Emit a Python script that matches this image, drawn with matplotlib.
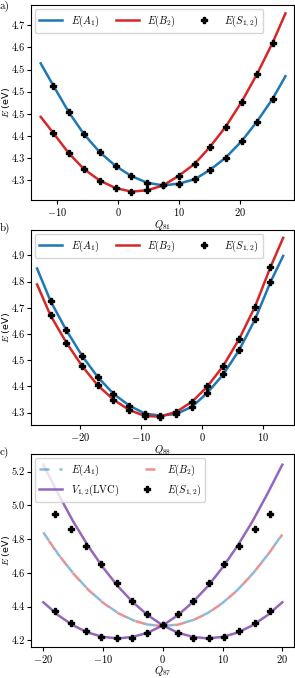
import matplotlib.pyplot as plt

plt.rcParams['font.family'] = 'serif'
plt.rcParams['font.serif'] = ['cmr10', 'DejaVu Serif']
plt.rcParams['mathtext.fontset'] = 'cm'
plt.rcParams['axes.formatter.use_mathtext'] = True
plt.rcParams['font.size'] = 7.5
plt.rcParams['axes.unicode_minus'] = True

# ---- panel a) Q81 ----
qa_line = [-12.7, -10.6, -8.1, -5.6, -3.0, -0.4, 2.2, 4.8, 7.4, 10.0, 12.6, 15.1, 17.7, 20.3, 22.8, 25.4, 27.5]
ea_A1 = [4.564, 4.513, 4.454, 4.404, 4.363, 4.332, 4.309, 4.294, 4.288, 4.292, 4.302, 4.323, 4.351, 4.388, 4.432, 4.484, 4.535]
ea_B2 = [4.443, 4.406, 4.361, 4.325, 4.299, 4.282, 4.274, 4.277, 4.288, 4.310, 4.337, 4.375, 4.421, 4.477, 4.539, 4.611, 4.677]
qa_pts = [-10.6, -8.1, -5.6, -3.0, -0.4, 2.2, 4.8, 7.4, 10.0, 12.6, 15.1, 17.7, 20.3, 22.8, 25.4]
ea_S1 = [4.513, 4.454, 4.404, 4.363, 4.332, 4.309, 4.294, 4.288, 4.292, 4.302, 4.323, 4.351, 4.388, 4.432, 4.484]
ea_S2 = [4.406, 4.361, 4.325, 4.299, 4.282, 4.274, 4.277, 4.288, 4.310, 4.337, 4.375, 4.421, 4.477, 4.539, 4.611]
yticks_a = [4.30, 4.35, 4.40, 4.45, 4.50, 4.55, 4.60, 4.65]

# ---- panel b) Q88 ----
qb_line = [-27.0, -24.8, -22.2, -19.6, -17.1, -14.5, -11.9, -9.3, -6.8, -4.2, -1.6, 0.9, 3.5, 6.1, 8.7, 11.2, 13.3]
eb_A1 = [4.850, 4.726, 4.614, 4.516, 4.437, 4.372, 4.327, 4.296, 4.289, 4.295, 4.323, 4.376, 4.446, 4.539, 4.656, 4.797, 4.898]
eb_B2 = [4.789, 4.671, 4.567, 4.477, 4.405, 4.350, 4.310, 4.287, 4.285, 4.303, 4.342, 4.400, 4.479, 4.581, 4.705, 4.854, 4.967]
qb_pts = [-24.8, -22.2, -19.6, -17.1, -14.5, -11.9, -9.3, -6.8, -4.2, -1.6, 0.9, 3.5, 6.1, 8.7, 11.2]
eb_S1 = [4.726, 4.614, 4.516, 4.437, 4.372, 4.327, 4.296, 4.289, 4.295, 4.323, 4.376, 4.446, 4.539, 4.656, 4.797]
eb_S2 = [4.671, 4.567, 4.477, 4.405, 4.350, 4.310, 4.287, 4.285, 4.303, 4.342, 4.400, 4.479, 4.581, 4.705, 4.854]
yticks_b = [4.3, 4.4, 4.5, 4.6, 4.7, 4.8, 4.9]

# ---- panel c) Q87 ----
qc_line = [-20, -17.5, -15, -12.5, -10, -7.5, -5, -2.5, 0, 2.5, 5, 7.5, 10, 12.5, 15, 17.5, 20]
ec_A1 = [4.840, 4.711, 4.598, 4.502, 4.424, 4.363, 4.320, 4.294, 4.285, 4.294, 4.320, 4.362, 4.422, 4.499, 4.594, 4.705, 4.829]
ec_B2 = [4.838, 4.710, 4.597, 4.501, 4.423, 4.362, 4.319, 4.293, 4.285, 4.293, 4.319, 4.361, 4.421, 4.498, 4.593, 4.704, 4.827]
ec_V1 = [4.426, 4.349, 4.289, 4.246, 4.221, 4.212, 4.221, 4.246, 4.289, 4.349, 4.426, 4.520, 4.632, 4.760, 4.905, 5.068, 5.241]
ec_V2 = [5.241, 5.068, 4.905, 4.760, 4.632, 4.520, 4.426, 4.349, 4.289, 4.246, 4.221, 4.212, 4.221, 4.246, 4.289, 4.349, 4.426]
qc_pts = [-18.0, -15.4, -12.8, -10.3, -7.7, -5.1, -2.6, 0.0, 2.6, 5.1, 7.7, 10.3, 12.8, 15.4, 18.0]
ec_S1 = [4.374, 4.303, 4.254, 4.223, 4.212, 4.217, 4.244, 4.289, 4.244, 4.217, 4.212, 4.223, 4.254, 4.303, 4.374]
ec_S2 = [4.950, 4.863, 4.757, 4.655, 4.539, 4.436, 4.355, 4.289, 4.355, 4.436, 4.539, 4.655, 4.757, 4.863, 4.950]
yticks_c = [4.2, 4.4, 4.6, 4.8, 5.0, 5.2]

blue = '#1f77b4'
red = '#d62728'
purple = '#9467bd'
lw = 1.8
ms = 4.8

fig = plt.figure(figsize=(2.95, 6.78), dpi=100)
ax_a = fig.add_axes([0.105, 0.705, 0.8915, 0.2876])
ax_b = fig.add_axes([0.105, 0.3732, 0.8915, 0.2876])
ax_c = fig.add_axes([0.105, 0.0457, 0.8915, 0.2846])

# a)
ax_a.plot(qa_line, ea_A1, color=blue, lw=lw, label=r'$E(A_1)$')
ax_a.plot(qa_line, ea_B2, color=red, lw=lw, label=r'$E(B_2)$')
ax_a.plot(qa_pts, ea_S1, 'P', color='black', ms=ms, ls='none', label=r'$E(S_{1,2})$')
ax_a.plot(qa_pts, ea_S2, 'P', color='black', ms=ms, ls='none')
ax_a.set_xlim(-14.3, 28.9)
ax_a.set_ylim(4.255, 4.696)
ax_a.set_xticks([-10, 0, 10, 20])
ax_a.set_yticks(yticks_a)
ax_a.set_yticklabels(['%.1f' % t for t in yticks_a])
ax_a.set_xlabel(r'$Q_{81}$', labelpad=0)
ax_a.legend(loc='upper left', ncol=3, fontsize=7.5, handlelength=2.2, columnspacing=1.6,
            borderaxespad=0.4)

# b)
ax_b.plot(qb_line, eb_A1, color=blue, lw=lw, label=r'$E(A_1)$')
ax_b.plot(qb_line, eb_B2, color=red, lw=lw, label=r'$E(B_2)$')
ax_b.plot(qb_pts, eb_S1, 'P', color='black', ms=ms, ls='none', label=r'$E(S_{1,2})$')
ax_b.plot(qb_pts, eb_S2, 'P', color='black', ms=ms, ls='none')
ax_b.set_xlim(-28.0, 15.07)
ax_b.set_ylim(4.253, 4.997)
ax_b.set_xticks([-20, -10, 0, 10])
ax_b.set_yticks(yticks_b)
ax_b.set_yticklabels(['%.1f' % t for t in yticks_b])
ax_b.set_xlabel(r'$Q_{88}$', labelpad=0)
ax_b.legend(loc='upper left', ncol=3, fontsize=7.5, handlelength=2.2, columnspacing=1.6,
            borderaxespad=0.4)

# c)
ax_c.plot(qc_line, ec_A1, color=blue, alpha=0.5, lw=lw, ls=(0, (4, 4)), label=r'$E(A_1)$')
ax_c.plot(qc_line, ec_V1, color=purple, lw=lw, label=r'$V_{1,2}(\mathrm{LVC})$')
ax_c.plot(qc_line, ec_B2, color=red, alpha=0.5, lw=lw, ls=(4, (4, 4)), label=r'$E(B_2)$')
ax_c.plot(qc_line, ec_V2, color=purple, lw=lw)
ax_c.plot(qc_pts, ec_S1, 'P', color='black', ms=ms, ls='none', label=r'$E(S_{1,2})$')
ax_c.plot(qc_pts, ec_S2, 'P', color='black', ms=ms, ls='none')
ax_c.set_xlim(-22.06, 21.95)
ax_c.set_ylim(4.161, 5.304)
ax_c.set_xticks([-20, -10, 0, 10, 20])
ax_c.set_yticks(yticks_c)
ax_c.set_yticklabels(['%.1f' % t for t in yticks_c])
ax_c.set_xlabel(r'$Q_{87}$', labelpad=-1)
ax_c.legend(loc='upper left', ncol=2, fontsize=7.5, handlelength=2.2, columnspacing=1.6,
            borderaxespad=0.4)

for ax in (ax_a, ax_b, ax_c):
    ax.set_ylabel(r'$E$ (eV)', fontfamily='DejaVu Sans', fontsize=6.8, va='center')
    ax.yaxis.set_label_coords(-0.094, 0.5)
    ax.tick_params(labelsize=7.5, length=2.8, pad=1.5)

fig.text(0.0, 1 - 6 / 678, 'a)', fontsize=8, va='center', ha='left')
fig.text(0.0, 1 - 228 / 678, 'b)', fontsize=8, va='center', ha='left')
fig.text(0.0, 1 - 452 / 678, 'c)', fontsize=8, va='center', ha='left')

fig.savefig('out.png', dpi=100)
